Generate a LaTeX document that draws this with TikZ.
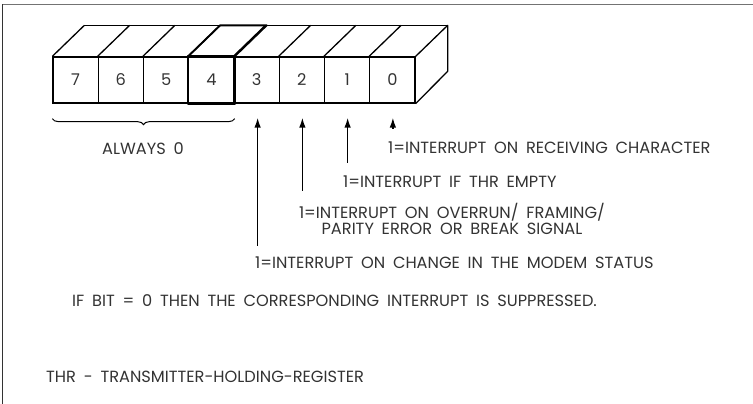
\documentclass[tikz,border=0pt]{standalone}
\usepackage{fontspec}
\setmainfont{Poppins}[WordSpace=1.8]
\usetikzlibrary{arrows.meta,decorations.pathreplacing}

\begin{document}
\begin{tikzpicture}[x=1pt,y=-1pt,
  every node/.style={font=\fontsize{16.2}{19}\selectfont, text=black!80},
  cell/.style={draw=black, line width=1.3pt, minimum width=45.25pt,
    minimum height=46pt, inner sep=0pt, anchor=center},
  edge/.style={line width=1.3pt, line join=round},
  boldedge/.style={line width=1.9pt, line join=round},
  label/.style={anchor=west, inner sep=0pt},
  pointer/.style={line width=1.4pt, -{Latex[length=10pt,width=6.5pt]}}]
\useasboundingbox (0,0) rectangle (753,404);

% frame lines
\draw[black!55, line width=1.4pt] (3,4.5) -- (753,4.5);
\draw[black!80, line width=1.2pt] (2.7,4.5) -- (2.7,404);

% front faces of the eight register bits
\foreach \b [evaluate=\b as \k using 7-\b] in {7,6,...,0}
  \node[cell] (c\b) at ({53+45.25*(\k+0.5)},80) {\b};

% top face and right face of the block
\foreach \b in {7,6,...,0}
  \draw[edge] (c\b.north west) -- ++(32,-31);
\draw[edge] (c0.north east) -- ++(32,-31) coordinate (br)
  -- ++(0,46) -- (c0.south east);
\draw[edge] ([shift={(32,-31)}]c7.north west) -- (br);

% bit 4 is outlined heavier
\draw[boldedge] (c4.north west) rectangle (c4.south east);
\draw[boldedge] (c4.north west) -- ++(32,-31) -- ([shift={(32,-31)}]c4.north east)
  -- (c4.north east);

% bits 7..4
\draw[line width=1pt, decorate, decoration={brace, amplitude=6pt, mirror}]
  ([shift={(0,15)}]c7.south west) -- ([shift={(0,15)}]c4.south east);
\node (always) at (143,149) {ALWAYS 0};

% descriptions of bits 0..3
\node[label] (t0) at (388,148) {1=INTERRUPT ON RECEIVING CHARACTER};
\node[label] (t1) at (343,182) {1=INTERRUPT IF THR EMPTY};
\node[align=center, inner sep=0pt] (t2) at (452,219)
  {1=INTERRUPT ON OVERRUN/ FRAMING/\\[-3pt]PARITY ERROR OR BREAK SIGNAL};
\node[label] (t3) at (255,263) {1=INTERRUPT ON CHANGE IN THE MODEM STATUS};

% pointers from the descriptions up to their bits
\coordinate (s0) at ([shift={(0.5,25)}]c0.south);
\coordinate (s1) at ([shift={(0.5,59)}]c1.south);
\coordinate (s2) at ([shift={(0.5,87)}]c2.south);
\coordinate (s3) at ([shift={(1,142)}]c3.south);
\foreach \b in {0,1,2,3} {
  \coordinate (e\b) at ([shift={(0,14)}]c\b.south);
  \draw[pointer] (s\b) -- (s\b |- e\b);
}

\node[label] (note) at (72,301) {IF BIT = 0 THEN THE CORRESPONDING INTERRUPT IS SUPPRESSED.};
\node[label] (thr) at (46,377) {THR - TRANSMITTER-HOLDING-REGISTER};
\end{tikzpicture}
\end{document}
